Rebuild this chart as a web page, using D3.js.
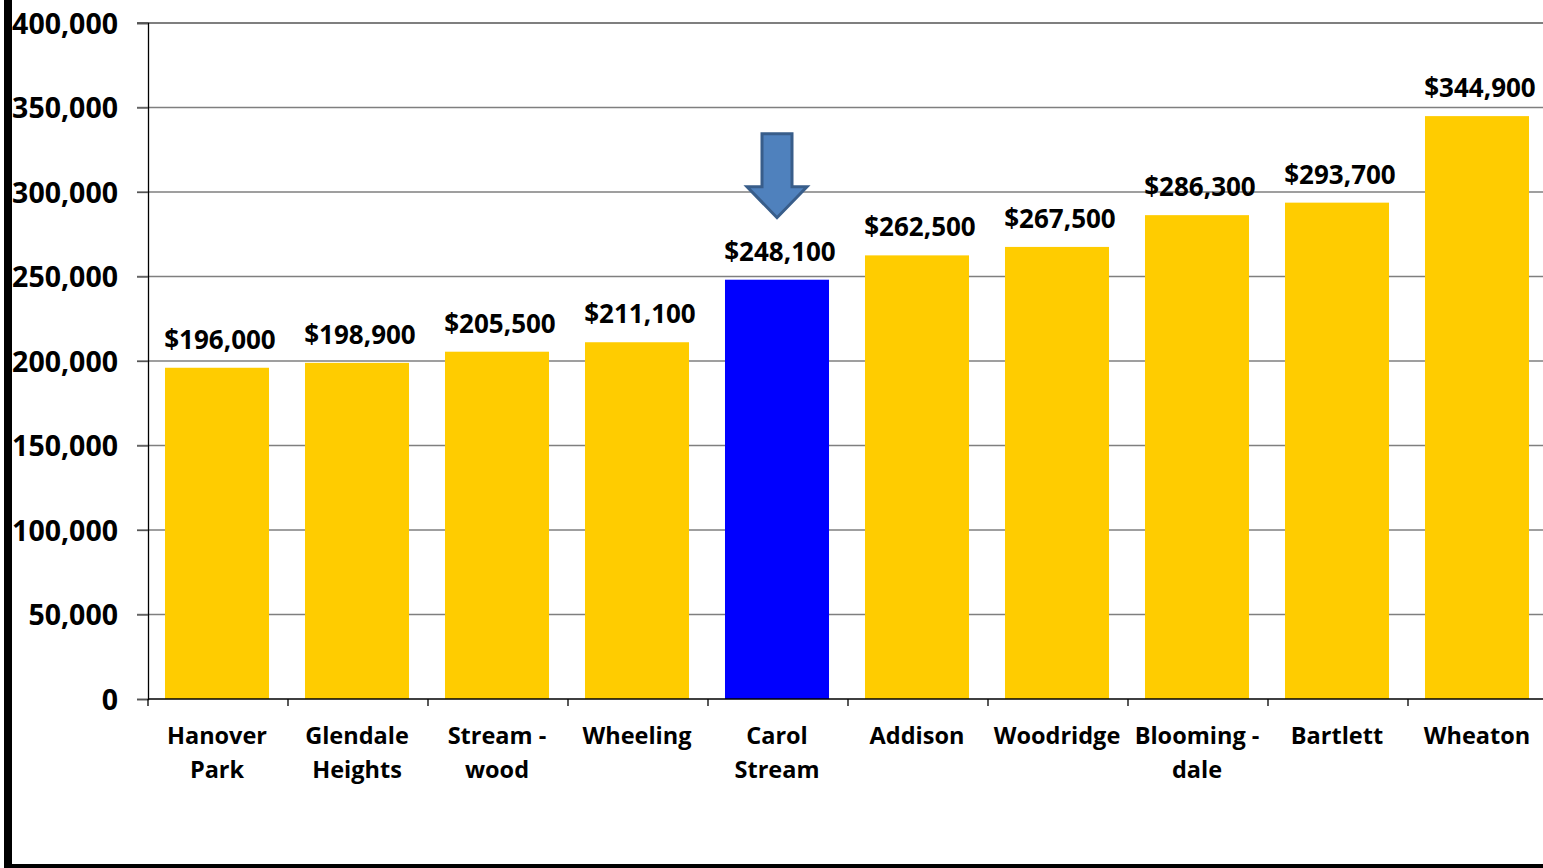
<!DOCTYPE html>
<html><head><meta charset="utf-8">
<script src="https://cdn.jsdelivr.net/npm/d3@7"></script>
<style>body{margin:0;background:#fff;overflow:hidden}svg{display:block}text{font-family:"Open Sans",Lato,sans-serif;font-weight:bold;fill:#000}</style>
</head><body>
<script>
const categories = [["Hanover","Park"],["Glendale","Heights"],["Stream -","wood"],["Wheeling"],["Carol","Stream"],["Addison"],["Woodridge"],["Blooming -","dale"],["Bartlett"],["Wheaton"]];
const values = [196000,198900,205500,211100,248100,262500,267500,286300,293700,344900];
const highlight = [false,false,false,false,true,false,false,false,false,false];
const yTicks = [0,50000,100000,150000,200000,250000,300000,350000,400000];

const W=1543,H=868;
const svg=d3.select("body").append("svg").attr("width",W).attr("height",H);
const x=d3.scaleBand().domain(d3.range(categories.length)).range([147,1547]).paddingInner(0.257).paddingOuter(0.1285);
const y=d3.scaleLinear().domain([0,400000]).range([699,23]);

// gridlines
svg.append("g").selectAll("line").data(yTicks.slice(1)).join("line")
  .attr("x1",137).attr("x2",W).attr("y1",d=>y(d)).attr("y2",d=>y(d))
  .attr("stroke",d=>d===400000?"#555":"#7f7f7f").attr("stroke-width",1.3);

// bars
svg.append("g").selectAll("rect").data(values).join("rect")
  .attr("x",(d,i)=>x(i)).attr("width",x.bandwidth())
  .attr("y",d=>y(d)).attr("height",d=>y(0)-y(d))
  .attr("fill",(d,i)=>highlight[i]?"#0000FF":"#FFCC00");

// y axis
const ya=svg.append("g").attr("transform","translate(148,0)")
  .call(d3.axisLeft(y).tickValues(yTicks).tickSize(11).tickPadding(19).tickFormat(d3.format(",")));
ya.select(".domain").attr("stroke","#000").attr("stroke-width",1.3);
ya.selectAll(".tick line").attr("stroke","#555").attr("stroke-width",1.3);
ya.selectAll("text").style("font-size","28.5px").attr("fill","#000").attr("dy","0.36em");

// x axis
const step=x.step();
svg.append("line").attr("x1",148).attr("x2",W).attr("y1",y(0)).attr("y2",y(0)).attr("stroke","#000").attr("stroke-width",1.3);
svg.append("g").selectAll("line").data(d3.range(categories.length)).join("line")
  .attr("x1",i=>148+i*step).attr("x2",i=>148+i*step).attr("y1",y(0)).attr("y2",y(0)+7)
  .attr("stroke","#000").attr("stroke-width",1.3);

// category labels
const cl=svg.append("g").selectAll("text").data(categories).join("text")
  .attr("x",(d,i)=>x(i)+x.bandwidth()/2).attr("y",744).attr("text-anchor","middle").style("font-size","23.5px");
cl.selectAll("tspan").data(d=>d).join("tspan").attr("x",function(){return this.parentNode.getAttribute("x");})
  .attr("dy",(d,j)=>j===0?0:34).text(d=>d);

// value labels
svg.append("g").selectAll("text").data(values).join("text")
  .attr("x",(d,i)=>x(i)+x.bandwidth()/2+3).attr("y",d=>y(d)-19).attr("text-anchor","middle")
  .style("font-size","26px").text(d=>"$"+d3.format(",")(d));

// arrow over highlighted bar
const hi=highlight.indexOf(true);
const cx=x(hi)+x.bandwidth()/2;
const tipY=y(values[hi])-62;
const ap=[[-15,-84],[15,-84],[15,-31],[30,-31],[0,0],[-30,-31],[-15,-31]].map(p=>[cx+p[0],tipY+p[1]]);
svg.append("path").attr("d","M"+ap.join("L")+"Z").attr("fill","#4F81BD").attr("stroke","#385D8A").attr("stroke-width",3).attr("stroke-linejoin","miter");

// frame border (left and bottom)
svg.append("rect").attr("x",4).attr("y",-10).attr("width",8).attr("height",H+10).attr("fill","#000");
svg.append("rect").attr("x",4).attr("y",864).attr("width",W).attr("height",4).attr("fill","#000");
</script>
</body></html>
